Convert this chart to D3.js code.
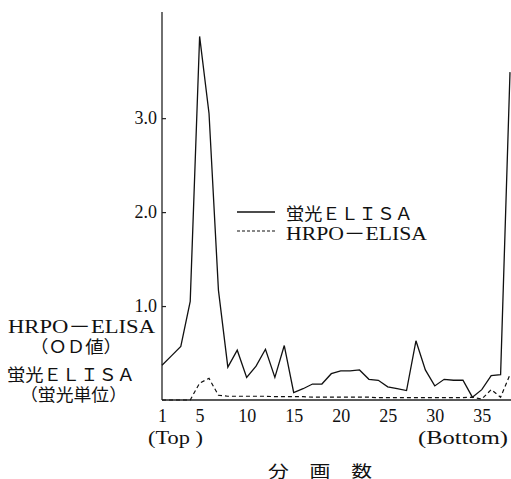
<!DOCTYPE html>
<html>
<head>
<meta charset="utf-8">
<script src="https://cdn.jsdelivr.net/npm/d3@7"></script>
<style>
  body { margin: 0; background: #fff; }
  text { font-family: "Liberation Serif", "Noto Sans CJK JP", serif; fill: #111; }
</style>
</head>
<body>
<div id="chart"></div>
<script>
// fraction numbers 1..38
const fractions = d3.range(1, 39)
// 蛍光ELISA (fluorescence units)
const fluoValues = [0.37, 0.47, 0.57, 1.05, 3.87, 3.05, 1.17, 0.35, 0.53, 0.24,
                    0.36, 0.54, 0.24, 0.58, 0.08, 0.12, 0.17, 0.17, 0.28, 0.31,
                    0.31, 0.32, 0.22, 0.21, 0.14, 0.12, 0.10, 0.63, 0.32, 0.15,
                    0.22, 0.21, 0.21, 0.03, 0.11, 0.26, 0.27, 3.49]
// HRPO-ELISA (OD)
const hrpoValues = [0.0, 0.0, 0.0, 0.0, 0.18, 0.23, 0.05, 0.04, 0.04, 0.04,
                    0.04, 0.04, 0.035, 0.035, 0.035, 0.035, 0.03, 0.03, 0.03, 0.03,
                    0.03, 0.03, 0.03, 0.025, 0.025, 0.025, 0.025, 0.025, 0.025, 0.025,
                    0.025, 0.025, 0.025, 0.03, 0.01, 0.11, 0.03, 0.27]
const yTicks = [1, 2, 3]
const xTicks = [1, 5, 10, 15, 20, 25, 30, 35]
const seriesNames = ["蛍光ＥＬＩＳＡ", "HRPO－ELISA"]

const width = 511, height = 479
const svg = d3.select("#chart").append("svg")
    .attr("width", width).attr("height", height)

const x = d3.scaleLinear().domain([1, 38]).range([162, 510])
const y = d3.scaleLinear().domain([0, 4.13]).range([400, 12])

// y axis
const yAxis = svg.append("g")
    .attr("transform", "translate(162,0)")
    .call(d3.axisLeft(y).tickValues(yTicks).tickSize(-4).tickPadding(5)
        .tickFormat(d3.format(".1f")))
yAxis.select(".domain").attr("stroke", "#222").attr("stroke-width", 1.3)
    .attr("d", "M0," + y(0) + "V" + y.range()[1])
yAxis.selectAll(".tick line").attr("stroke", "#222").attr("stroke-width", 1.2)
yAxis.selectAll(".tick text").style("font-size", "18px")
    .style("font-family", "Liberation Serif").attr("fill", "#111")

// x axis
const xAxis = svg.append("g")
    .attr("transform", "translate(0,400)")
    .call(d3.axisBottom(x).tickValues(xTicks).tickSize(0).tickPadding(9))
xAxis.select(".domain").attr("stroke", "#222").attr("stroke-width", 1.3)
    .attr("d", "M162,0H511")
xAxis.selectAll(".tick text").style("font-size", "18px")
    .style("font-family", "Liberation Serif").attr("fill", "#111")

// lines
const fluoLine = d3.line().x((d, i) => x(fractions[i])).y(d => y(d))
svg.append("path").datum(fluoValues)
    .attr("d", fluoLine)
    .attr("fill", "none").attr("stroke", "#111").attr("stroke-width", 1.3)
svg.append("path").datum(hrpoValues)
    .attr("d", fluoLine)
    .attr("fill", "none").attr("stroke", "#111").attr("stroke-width", 1.2)
    .attr("stroke-dasharray", "4,3")

// legend
const legend = svg.append("g")
legend.append("line").attr("x1", 237).attr("x2", 275).attr("y1", 212).attr("y2", 212)
    .attr("stroke", "#111").attr("stroke-width", 1.5)
legend.append("line").attr("x1", 237).attr("x2", 275).attr("y1", 231).attr("y2", 231)
    .attr("stroke", "#111").attr("stroke-width", 1.2).attr("stroke-dasharray", "3,2")
legend.append("text").attr("x", 286).attr("y", 220).text(seriesNames[0])
    .style("font-size", "17px").attr("textLength", 127).attr("lengthAdjust", "spacingAndGlyphs")
legend.append("text").attr("x", 286).attr("y", 240).text(seriesNames[1])
    .style("font-size", "18px").attr("textLength", 141).attr("lengthAdjust", "spacingAndGlyphs")

// left axis titles
const addText = (t, x0, yb, len, size) => svg.append("text")
    .attr("x", x0).attr("y", yb).text(t)
    .style("font-size", size + "px")
    .attr("textLength", len).attr("lengthAdjust", "spacingAndGlyphs")
addText("HRPO－ELISA", 8, 333, 147, 18)
addText("（ＯＤ値）", 30, 353, 92, 17)
addText("蛍光ＥＬＩＳＡ", 7, 381, 128, 17)
addText("（蛍光単位）", 20, 401, 107, 17)

// x labels
addText("(Top )", 148, 444, 55, 18)
addText("(Bottom)", 418, 444, 90, 18)
addText("分　画　数", 268, 477, 104, 16)
</script>
</body>
</html>
